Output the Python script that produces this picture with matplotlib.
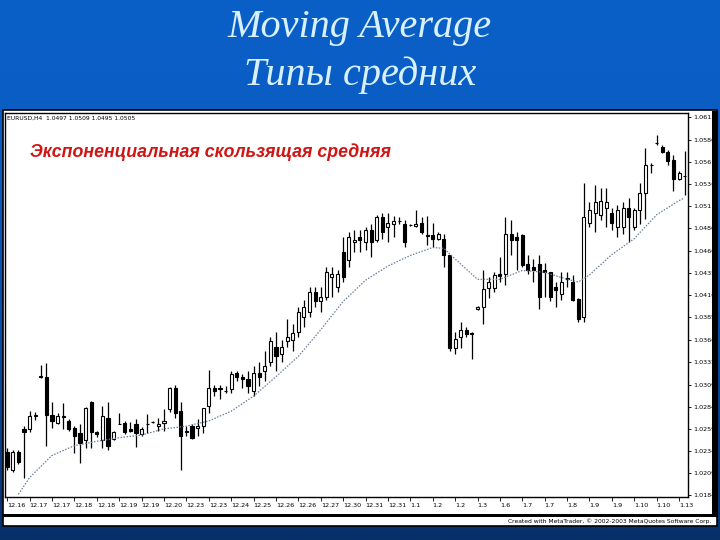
import matplotlib as mpl
mpl.use('Agg')
import matplotlib.pyplot as plt
import numpy as np
from matplotlib.patches import Rectangle

# 4H candles, EURUSD-like
opens = [1.0233, 1.0212, 1.0233, 1.0259, 1.0259, 1.0273, 1.0318, 1.0318, 1.0275, 1.0266,
         1.0273, 1.0268, 1.0260, 1.0254, 1.0246, 1.0289, 1.0255, 1.0246, 1.0271, 1.0248,
         1.0265, 1.0266, 1.0259, 1.0265, 1.0253, 1.0265, 1.0267, 1.0262, 1.0266, 1.0281,
         1.0305, 1.0279, 1.0257, 1.0262, 1.0260, 1.0262, 1.0285, 1.0305, 1.0304, 1.0302,
         1.0304, 1.0322, 1.0318, 1.0315, 1.0302, 1.0322, 1.0324, 1.0335, 1.0352, 1.0344,
         1.0358, 1.0360, 1.0369, 1.0386, 1.0391, 1.0414, 1.0403, 1.0408, 1.0431, 1.0419,
         1.0459, 1.0450, 1.0470, 1.0476, 1.0470, 1.0484, 1.0473, 1.0498, 1.0487, 1.0490,
         1.0494, 1.0490, 1.0489, 1.0488, 1.0492, 1.0478, 1.0478, 1.0474, 1.0474, 1.0455,
         1.0350, 1.0363, 1.0371, 1.0367, 1.0394, 1.0397, 1.0418, 1.0418, 1.0434, 1.0434,
         1.0479, 1.0476, 1.0478, 1.0445, 1.0442, 1.0445, 1.0438, 1.0436, 1.0419, 1.0411,
         1.0428, 1.0425, 1.0406, 1.0385, 1.0492, 1.0503, 1.0501, 1.0509, 1.0503, 1.0487,
         1.0487, 1.0509, 1.0487, 1.0506, 1.0526, 1.0557, 1.0582, 1.0578, 1.0572, 1.0563,
         1.0541, 1.0545]
highs = [1.0237, 1.0235, 1.0235, 1.0262, 1.0279, 1.0278, 1.0331, 1.0333, 1.0289, 1.0277,
         1.0288, 1.0270, 1.0262, 1.0265, 1.0284, 1.0290, 1.0257, 1.0285, 1.0289, 1.0257,
         1.0277, 1.0268, 1.0267, 1.0270, 1.0261, 1.0276, 1.0268, 1.0271, 1.0281, 1.0306,
         1.0309, 1.0289, 1.0262, 1.0264, 1.0270, 1.0283, 1.0326, 1.0309, 1.0309, 1.0307,
         1.0324, 1.0324, 1.0321, 1.0324, 1.0330, 1.0335, 1.0347, 1.0363, 1.0369, 1.0360,
         1.0383, 1.0378, 1.0397, 1.0405, 1.0419, 1.0419, 1.0419, 1.0442, 1.0442, 1.0438,
         1.0476, 1.0481, 1.0484, 1.0484, 1.0487, 1.0490, 1.0501, 1.0503, 1.0503, 1.0500,
         1.0499, 1.0495, 1.0490, 1.0506, 1.0498, 1.0500, 1.0492, 1.0481, 1.0479, 1.0456,
         1.0369, 1.0380, 1.0374, 1.0369, 1.0398, 1.0438, 1.0431, 1.0436, 1.0453, 1.0498,
         1.0495, 1.0481, 1.0479, 1.0456, 1.0451, 1.0456, 1.0447, 1.0436, 1.0425, 1.0436,
         1.0436, 1.0433, 1.0407, 1.0537, 1.0515, 1.0535, 1.0531, 1.0531, 1.0509, 1.0512,
         1.0515, 1.0520, 1.0509, 1.0537, 1.0576, 1.0559, 1.0591, 1.0580, 1.0574, 1.0568,
         1.0550, 1.0573]
lows = [1.0212, 1.0210, 1.0219, 1.0204, 1.0255, 1.0269, 1.0316, 1.0240, 1.0260, 1.0264,
        1.0259, 1.0257, 1.0232, 1.0220, 1.0237, 1.0237, 1.0250, 1.0237, 1.0235, 1.0246,
        1.0264, 1.0253, 1.0255, 1.0238, 1.0251, 1.0254, 1.0266, 1.0257, 1.0257, 1.0278,
        1.0271, 1.0212, 1.0251, 1.0248, 1.0251, 1.0254, 1.0277, 1.0296, 1.0293, 1.0300,
        1.0299, 1.0313, 1.0305, 1.0300, 1.0296, 1.0307, 1.0313, 1.0330, 1.0324, 1.0335,
        1.0352, 1.0347, 1.0363, 1.0374, 1.0386, 1.0397, 1.0391, 1.0405, 1.0408, 1.0414,
        1.0425, 1.0442, 1.0459, 1.0459, 1.0461, 1.0453, 1.0470, 1.0474, 1.0470, 1.0476,
        1.0490, 1.0464, 1.0488, 1.0487, 1.0479, 1.0467, 1.0464, 1.0473, 1.0442, 1.0347,
        1.0344, 1.0350, 1.0363, 1.0338, 1.0393, 1.0378, 1.0407, 1.0414, 1.0425, 1.0422,
        1.0455, 1.0439, 1.0442, 1.0434, 1.0425, 1.0394, 1.0408, 1.0403, 1.0397, 1.0405,
        1.0419, 1.0403, 1.0380, 1.0380, 1.0487, 1.0481, 1.0495, 1.0487, 1.0484, 1.0476,
        1.0479, 1.0470, 1.0484, 1.0490, 1.0496, 1.0548, 1.0580, 1.0571, 1.0557, 1.0528,
        1.0540, 1.0523]
closes = [1.0216, 1.0233, 1.0221, 1.0255, 1.0273, 1.0275, 1.0319, 1.0275, 1.0268, 1.0274,
          1.0272, 1.0259, 1.0251, 1.0243, 1.0283, 1.0255, 1.0253, 1.0273, 1.0240, 1.0255,
          1.0265, 1.0255, 1.0257, 1.0254, 1.0259, 1.0265, 1.0267, 1.0264, 1.0268, 1.0305,
          1.0277, 1.0251, 1.0255, 1.0249, 1.0262, 1.0283, 1.0305, 1.0302, 1.0305, 1.0302,
          1.0321, 1.0318, 1.0315, 1.0307, 1.0322, 1.0318, 1.0330, 1.0358, 1.0341, 1.0352,
          1.0363, 1.0367, 1.0391, 1.0397, 1.0414, 1.0403, 1.0408, 1.0436, 1.0434, 1.0434,
          1.0431, 1.0476, 1.0473, 1.0473, 1.0484, 1.0470, 1.0498, 1.0481, 1.0492, 1.0494,
          1.0494, 1.0470, 1.0489, 1.0490, 1.0481, 1.0477, 1.0474, 1.0479, 1.0456, 1.0350,
          1.0361, 1.0371, 1.0366, 1.0366, 1.0397, 1.0417, 1.0425, 1.0433, 1.0432, 1.0479,
          1.0473, 1.0473, 1.0444, 1.0439, 1.0438, 1.0408, 1.0436, 1.0408, 1.0416, 1.0425,
          1.0430, 1.0405, 1.0383, 1.0498, 1.0506, 1.0515, 1.0517, 1.0515, 1.0492, 1.0506,
          1.0509, 1.0498, 1.0506, 1.0526, 1.0557, 1.0557, 1.0582, 1.0572, 1.0562, 1.0541,
          1.0548, 1.0545]

# exponential moving average, sampled along the dotted line
ema_bar = [2, 4, 8, 12, 16, 20, 24, 28, 32, 36, 40, 44, 48, 52, 56, 60, 64, 68, 72, 76,
           78, 80, 84, 88, 92, 96, 100, 102, 104, 108, 112, 116, 120, 121]
ema_val = [1.0185, 1.0204, 1.0229, 1.0240, 1.0245, 1.0249, 1.0252, 1.0259, 1.0262, 1.0268,
           1.0279, 1.0296, 1.0318, 1.0341, 1.0371, 1.0403, 1.0427, 1.0443, 1.0455, 1.0464,
           1.0463, 1.0451, 1.0428, 1.0428, 1.0438, 1.0436, 1.0428, 1.0425, 1.0433, 1.0456,
           1.0474, 1.0501, 1.0517, 1.0520]

date_labels = ['12.16', '12.17', '12.17', '12.18', '12.18', '12.19', '12.19', '12.20',
               '12.23', '12.23', '12.24', '12.25', '12.26', '12.26', '12.27', '12.30',
               '12.31', '12.31', '1.1', '1.2', '1.2', '1.3', '1.6', '1.7', '1.7', '1.8',
               '1.9', '1.9', '1.10', '1.10', '1.13']
price_ticks = [1.0612, 1.0586, 1.0561, 1.0536, 1.0511, 1.0486, 1.0460, 1.0435, 1.0410,
               1.0385, 1.0360, 1.0335, 1.0309, 1.0284, 1.0259, 1.0234, 1.0209, 1.0184]

W, H = 720, 540
fig = plt.figure(figsize=(7.2, 5.4), dpi=100)

# slide background: blue gradient
bg = fig.add_axes([0, 0, 1, 1])
grad = np.linspace(0, 1, 256).reshape(-1, 1)
cmap = mpl.colors.LinearSegmentedColormap.from_list(
    'slide', ['#0b60c8', '#0a5bc0', '#0a4a9e', '#07306a'])
bg.imshow(grad, aspect='auto', cmap=cmap, extent=[0, 1, 0, 1])
bg.set_xlim(0, 1)
bg.set_ylim(0, 1)
bg.axis('off')

def fx(px):
    return px / W

def fy(py):
    return 1 - py / H

# white chart panel
fig.patches.append(Rectangle((fx(3), fy(526)), fx(714), 416 / H, transform=fig.transFigure,
                             facecolor='white', edgecolor='black', lw=1.2, zorder=1))
fig.patches.append(Rectangle((fx(712), fy(517)), fx(6), 406 / H, transform=fig.transFigure,
                             facecolor='black', edgecolor='none', zorder=2))
fig.patches.append(Rectangle((fx(3), fy(517)), fx(715), 3.5 / H, transform=fig.transFigure,
                             facecolor='black', edgecolor='none', zorder=2))

fig.text(0.5, fy(28), 'Moving Average', family='Liberation Serif', style='italic',
         size=29, color='#d8f1ff', ha='center', va='center')
fig.text(0.5, fy(75), 'Типы средних', family='Liberation Serif', style='italic',
         size=29, color='#d8f1ff', ha='center', va='center')
fig.text(fx(711), fy(521), 'Created with MetaTrader, © 2002-2003 MetaQuotes Software Corp.',
         size=4.3, color='black', ha='right', va='center', zorder=5)

ax = fig.add_axes([fx(5), fy(497), fx(683), 384 / H], zorder=3)
ax.set_facecolor('white')
x = np.arange(len(opens))
o = np.array(opens)
c = np.array(closes)
ax.vlines(x, lows, highs, color='black', lw=0.9, zorder=2)
bull = c >= o
ax.bar(x[bull], c[bull] - o[bull], bottom=o[bull], width=0.55, facecolor='white',
       edgecolor='black', lw=0.8, zorder=3)
ax.bar(x[~bull], c[~bull] - o[~bull], bottom=o[~bull], width=0.55, facecolor='black',
       edgecolor='black', lw=0.8, zorder=3)
ax.plot(ema_bar, ema_val, color='#6b7d9e', lw=0.9, ls=(0, (1.2, 1.2)), zorder=4)

ax.set_xlim(-0.4, 121.6)
ax.set_ylim(1.0182, 1.0616)
ax.set_xticks(np.arange(0, 4 * len(date_labels), 4))
ax.set_xticklabels(date_labels, ha='left', size=4.6)
ax.tick_params(axis='x', length=3, width=0.6, pad=1.5)
ax.yaxis.tick_right()
ax.set_yticks(price_ticks)
ax.set_yticklabels(['%.4f' % v for v in price_ticks], size=4.6)
ax.tick_params(axis='y', length=2.5, width=0.6, pad=1.5)
for s in ax.spines.values():
    s.set_linewidth(1.0)

ax.text(0.003, 0.993, 'EURUSD,H4  1.0497 1.0509 1.0495 1.0505', transform=ax.transAxes,
        size=4.3, va='top', ha='left')
ax.text(25 / 683, 1 - (152 - 113) / 384,
        'Экспоненциальная скользящая средняя', transform=ax.transAxes,
        family='Liberation Sans', weight='bold', style='italic', size=12.8,
        color='#d01515', ha='left', va='center')

fig.savefig('out.png', dpi=100)
